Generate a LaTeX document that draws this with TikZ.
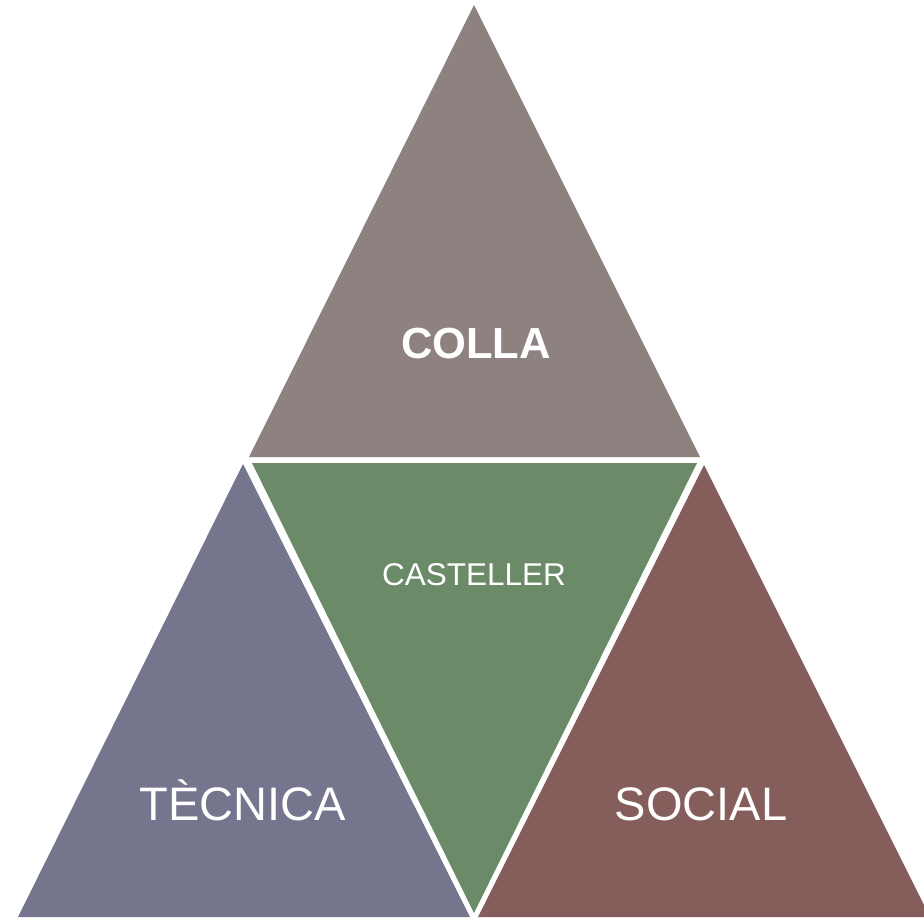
\documentclass[tikz,border=0pt]{standalone}
\usepackage{fontspec}
\setmainfont{Liberation Sans}
\definecolor{cgray}{RGB}{142,130,129}
\definecolor{cgreen}{RGB}{106,138,104}
\definecolor{cblue}{RGB}{117,117,141}
\definecolor{cred}{RGB}{133,94,92}
\tikzset{
  seg/.style={draw=none},
  lbl/.style={text=white, inner sep=0pt, anchor=base},
}
\begin{document}
\begin{tikzpicture}[x=1pt,y=-1pt]
\useasboundingbox (0,0) rectangle (924,919);
\clip (0,0) rectangle (924,919);
\fill[white] (0,0) rectangle (924,919);
% top triangle
\fill[cgray, seg] (474,5) -- (249,457) -- (700,457) -- cycle;
% middle inverted triangle
\fill[cgreen, seg] (252,463) -- (697,463) -- (474,913) -- cycle;
% bottom left
\fill[cblue, seg] (243,464) -- (18,917) -- (470,917) -- cycle;
% bottom right
\fill[cred, seg] (704,465) -- (478,917) -- (930,917) -- cycle;
\node[lbl, font=\fontsize{43.5}{50}\selectfont\bfseries] (colla) at (476,358) {COLLA};
\node[lbl, font=\fontsize{31.5}{36}\selectfont] (casteller) at (474,585) {CASTELLER};
\node[lbl, font=\fontsize{47}{54}\selectfont] (tecnica) at (243,820) {TÈCNICA};
\node[lbl, font=\fontsize{47}{54}\selectfont] (social) at (701,820) {SOCIAL};
\end{tikzpicture}
\end{document}
